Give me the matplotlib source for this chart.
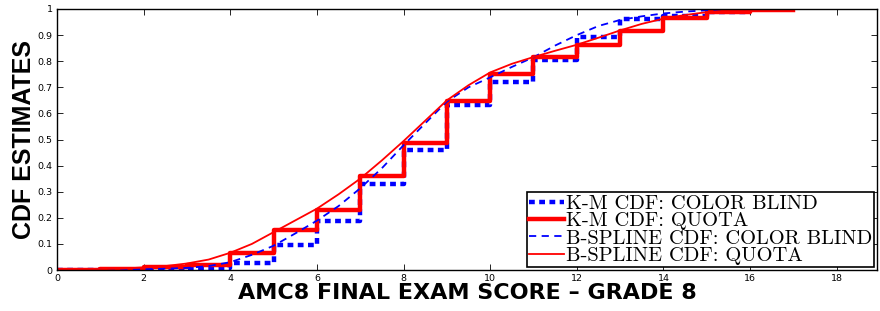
import matplotlib
matplotlib.use('Agg')
import matplotlib.pyplot as plt

# Kaplan-Meier step estimates (value held from each score to the next)
km_x_quota = [0, 1, 2, 3, 4, 5, 6, 7, 8, 9, 10, 11, 12, 13, 14, 15, 16, 17]
km_quota = [0.0, 0.005, 0.01, 0.02, 0.067, 0.152, 0.228, 0.36, 0.487, 0.647,
            0.752, 0.815, 0.861, 0.916, 0.965, 0.99, 0.997, 0.997]

km_x_blind = [0, 1, 2, 3, 4, 5, 6, 7, 8, 9, 10, 11, 12, 13, 14, 15, 16]
km_blind = [0.0, 0.001, 0.002, 0.006, 0.026, 0.094, 0.186, 0.33, 0.459, 0.632,
            0.72, 0.803, 0.893, 0.96, 0.975, 0.99, 0.99]

# smooth B-spline CDF estimates, read every half point
bs_x = [0, 0.5, 1, 1.5, 2, 2.5, 3, 3.5, 4, 4.5, 5, 5.5, 6, 6.5, 7, 7.5, 8, 8.5,
        9, 9.5, 10, 10.5, 11, 11.5, 12, 12.5, 13, 13.5, 14, 14.5, 15, 15.5,
        16, 16.5, 17]
bs_quota = [0.0, 0.001, 0.003, 0.005, 0.01, 0.015, 0.025, 0.04, 0.066, 0.1,
            0.145, 0.19, 0.235, 0.29, 0.35, 0.42, 0.494, 0.572, 0.65, 0.708,
            0.757, 0.79, 0.816, 0.84, 0.863, 0.89, 0.918, 0.943, 0.963, 0.977,
            0.988, 0.994, 0.997, 0.999, 1.0]
bs_blind = [0.0, 0.0, 0.001, 0.002, 0.003, 0.005, 0.008, 0.015, 0.03, 0.058,
            0.093, 0.14, 0.189, 0.245, 0.313, 0.39, 0.478, 0.562, 0.645, 0.7,
            0.738, 0.778, 0.815, 0.86, 0.9, 0.935, 0.958, 0.972, 0.983, 0.99,
            0.995, 0.998, 1.0, 1.0, 1.0]

labels = ['K-M CDF: COLOR BLIND', 'K-M CDF: QUOTA',
          'B-SPLINE CDF: COLOR BLIND', 'B-SPLINE CDF: QUOTA']

fig = plt.figure(figsize=(8.8, 3.11), dpi=100)
ax = fig.add_axes([57 / 880, 1 - 270 / 311, 820 / 880, 261 / 311])

ax.step(km_x_blind, km_blind, where='post', color='#0000ff', lw=3.2,
        ls=(0, (1.3, 1.0)), label=labels[0])
ax.step(km_x_quota, km_quota, where='post', color='#ff0000', lw=3.2,
        label=labels[1])
ax.plot(bs_x, bs_blind, color='#0000ff', lw=1.3, ls=(0, (4, 3)),
        label=labels[2])
ax.plot(bs_x, bs_quota, color='#ff0000', lw=1.3, label=labels[3])

ax.set_xlim(0, 18.93)
ax.set_ylim(0, 1)
ax.set_xticks(range(0, 19, 2))
ax.set_yticks([0, 0.1, 0.2, 0.3, 0.4, 0.5, 0.6, 0.7, 0.8, 0.9, 1])
ax.set_yticklabels(['0', '0.1', '0.2', '0.3', '0.4', '0.5', '0.6', '0.7',
                    '0.8', '0.9', '1'])
ax.tick_params(direction='in', top=True, right=True, labelsize=6.8,
               length=4, width=0.6, pad=3)
for s in ax.spines.values():
    s.set_linewidth(1.0)

ax.set_xlabel('AMC8 FINAL EXAM SCORE \u2013 GRADE 8', fontsize=16,
              fontweight='bold', family=['Liberation Sans Narrow', 'DejaVu Sans'],
              labelpad=0)
ax.set_ylabel('CDF ESTIMATES', fontsize=18, fontweight='bold',
              family=['Liberation Sans', 'DejaVu Sans'], labelpad=1)

leg = ax.legend(loc='lower right', prop={'family': 'cmr10', 'size': 14.8},
                fancybox=False, edgecolor='black', framealpha=1,
                handlelength=1.7, handletextpad=0.1, labelspacing=-0.05,
                borderpad=0.1, borderaxespad=0.15)
leg.get_frame().set_linewidth(1.2)

fig.savefig('out.png', dpi=100)
